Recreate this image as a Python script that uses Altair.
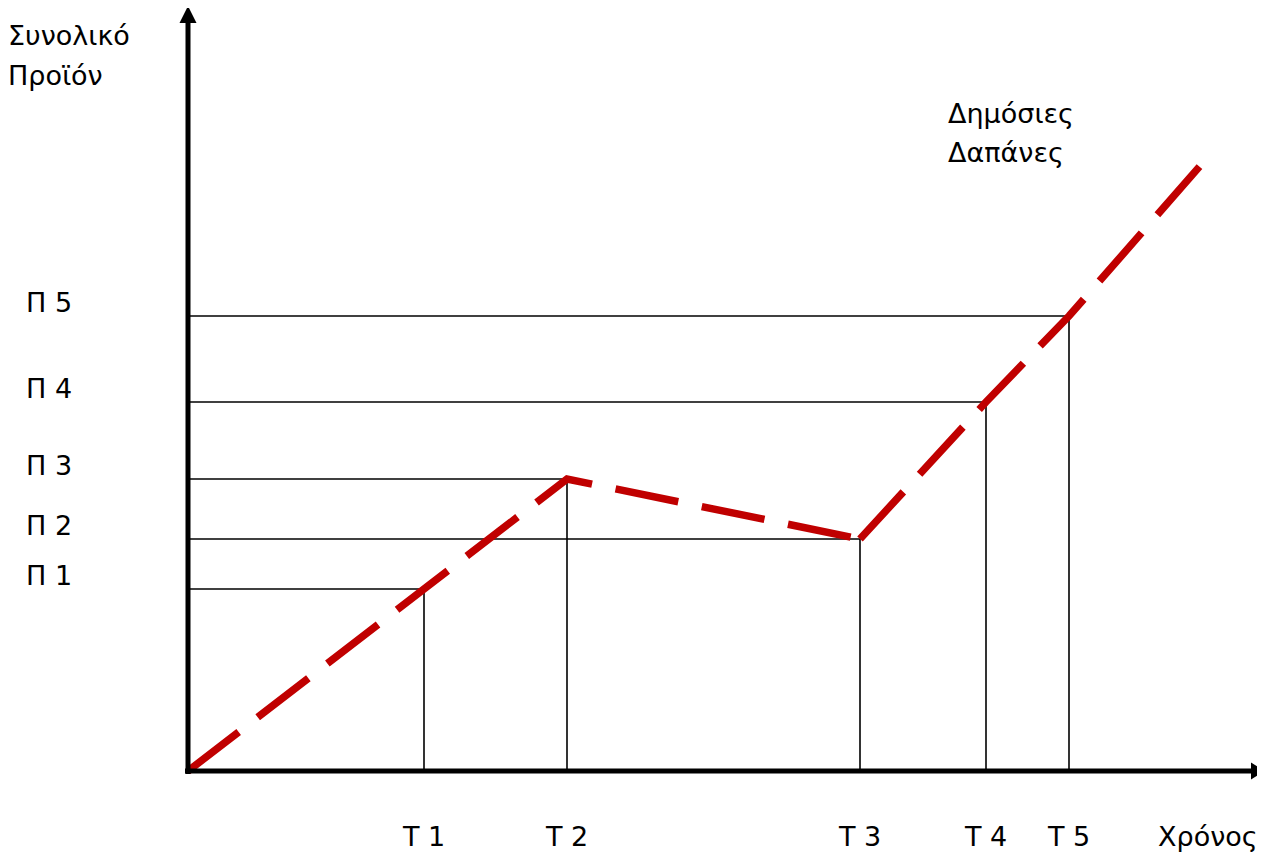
import altair as alt
import pandas as pd

# ---- data ----
time_labels = ["Τ 1", "Τ 2", "Τ 3", "Τ 4", "Τ 5"]
time_values = [2.36, 3.79, 6.72, 7.98, 8.81]
product_labels = ["Π 1", "Π 2", "Π 3", "Π 4", "Π 5"]
product_values = [1.82, 2.32, 2.92, 3.69, 4.55]
# product level reached at each time point (index into product_values)
product_at_time = [0, 2, 1, 3, 4]
# public spending path (dashed red), drawn as two strokes
spending_x = [0, 2.36, 3.79, 6.72, 6.72, 7.98, 8.81, 10.12]
spending_y = [0, 1.82, 2.92, 2.32, 2.32, 3.69, 4.55, 6.05]
spending_part = [1, 1, 1, 1, 2, 2, 2, 2]

y_title = ["Συνολικό", "Προϊόν"]
series_title = ["Δημόσιες", "Δαπάνες"]
x_title = "Χρόνος"

FONT = "DejaVu Sans"

# ---- scales ----
xs = alt.Scale(domain=[-1.80, 10.69], nice=False, zero=False)
ys = alt.Scale(domain=[-0.81, 7.63], nice=False, zero=False)

def X(f):
    return alt.X(f, type="quantitative", scale=xs, axis=None)

def Y(f):
    return alt.Y(f, type="quantitative", scale=ys, axis=None)

guides = pd.DataFrame({
    "x": time_values,
    "y": [product_values[i] for i in product_at_time],
    "x0": [0.0] * 5,
    "y0": [0.0] * 5,
})

hrules = alt.Chart(guides).mark_rule(color="black", strokeWidth=1.6).encode(
    x=X("x0"), x2="x", y=Y("y"))
vrules = alt.Chart(guides).mark_rule(color="black", strokeWidth=1.6).encode(
    x=X("x"), y=Y("y0"), y2="y")

path = pd.DataFrame({"x": spending_x, "y": spending_y, "part": spending_part,
                     "o": list(range(len(spending_x)))})
spend = alt.Chart(path).mark_line(
    color="#c00000", strokeWidth=7.5, strokeDash=[64, 24], strokeCap="butt",
    strokeJoin="miter").encode(x=X("x"), y=Y("y"), detail="part:N", order="o:Q")

axes_df = pd.DataFrame({
    "x": [0.0, -0.03], "y": [-0.03, 0.0], "x2": [0.0, 10.63], "y2": [7.48, 0.0]})
axes = alt.Chart(axes_df).mark_rule(color="black", strokeWidth=5).encode(
    x=X("x"), y=Y("y"), x2="x2", y2="y2")

up = alt.Chart(pd.DataFrame({"x": [0.0], "y": [7.565]})).mark_point(
    shape="M0,-1L1,1L-1,1Z", filled=True, color="black", size=289, opacity=1,
    strokeWidth=0).encode(x=X("x"), y=Y("y"))
right = alt.Chart(pd.DataFrame({"x": [10.70], "y": [0.0]})).mark_point(
    shape="M1,0L-1,-1.2L-1,1.2Z", filled=True, color="black", size=196, opacity=1,
    strokeWidth=0).encode(x=X("x"), y=Y("y"))

plabels = alt.Chart(pd.DataFrame({"y": product_values, "t": product_labels, "x": [-1.62] * 5})).mark_text(
    font=FONT, fontSize=27, align="left", baseline="alphabetic", dy=-4, color="black"
).encode(x=X("x"), y=Y("y"), text="t:N")

tlabels = alt.Chart(pd.DataFrame({"x": time_values, "t": time_labels, "y": [-0.75] * 5})).mark_text(
    font=FONT, fontSize=27, align="center", baseline="alphabetic", color="black"
).encode(x=X("x"), y=Y("y"), text="t:N")

xtitle = alt.Chart(pd.DataFrame({"x": [9.70], "y": [-0.75], "t": [x_title]})).mark_text(
    font=FONT, fontSize=27, align="left", baseline="alphabetic", color="black"
).encode(x=X("x"), y=Y("y"), text="t:N")

ytitle = alt.Chart(pd.DataFrame({"x": [-1.80, -1.80], "y": [7.26, 6.86], "t": y_title})).mark_text(
    font=FONT, fontSize=27, align="left", baseline="alphabetic", color="black"
).encode(x=X("x"), y=Y("y"), text="t:N")

stitle = alt.Chart(pd.DataFrame({"x": [7.60, 7.60], "y": [6.48, 6.09], "t": series_title})).mark_text(
    font=FONT, fontSize=27, align="left", baseline="alphabetic", color="black"
).encode(x=X("x"), y=Y("y"), text="t:N")

chart = alt.layer(
    hrules, vrules, spend, axes, up, right, plabels, tlabels, xtitle, ytitle, stitle
).properties(
    width=1249, height=844, padding=0, autosize="none", background="white"
).configure_view(stroke=None)

chart.save("out.html", embed_options={"renderer": "svg", "actions": False})
